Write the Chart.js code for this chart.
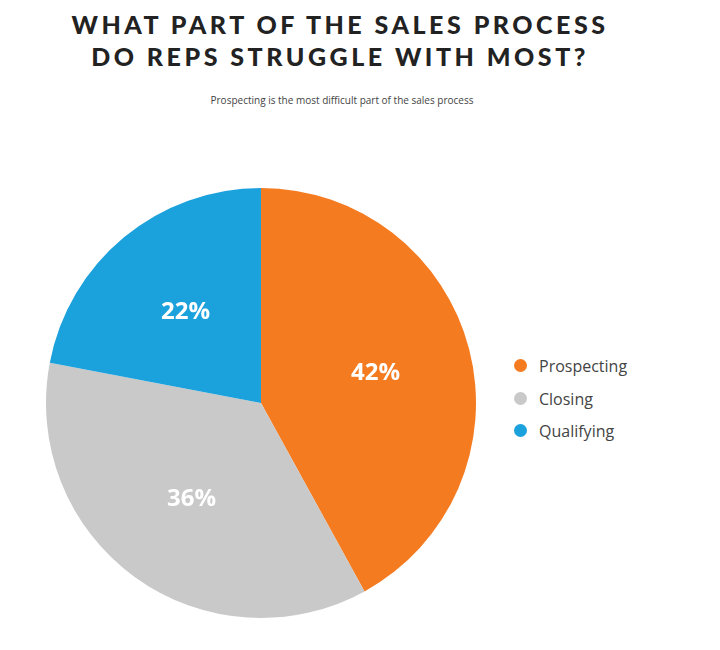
<!DOCTYPE html>
<html><head><meta charset="utf-8">
<script src="https://cdn.jsdelivr.net/npm/chart.js@4"></script>
<style>
body{margin:0;width:720px;height:650px;background:#fff;position:relative;font-family:"Open Sans",Lato,sans-serif;overflow:hidden}
#t{position:absolute;left:0;width:680px;top:8px;text-align:center;font-family:Lato,"Open Sans",sans-serif;font-weight:900;font-size:25px;letter-spacing:3.5px;line-height:32px;color:#222}
#s{position:absolute;left:0;width:684px;top:93px;text-align:center;font-size:10px;color:#444}
#c{position:absolute;left:36px;top:178px;width:450px;height:450px}
#lg{position:absolute;left:514px;top:355px;font-size:16px;color:#444}
#lg div{height:32.5px;display:flex;align-items:flex-start}
#lg span{display:inline-block;width:13px;height:13px;border-radius:50%;margin:4px 12px 0 0}
</style></head><body>
<div id="t">WHAT PART OF THE SALES PROCESS<br>DO REPS STRUGGLE WITH MOST?</div>
<div id="s">Prospecting is the most difficult part of the sales process</div>
<div id="c"><canvas id="cv"></canvas></div>
<div id="lg"></div>
<script>
const categories=["Prospecting","Closing","Qualifying"];
const values=[42,36,22];
const colors=["#F47B20","#C9C9C9","#1BA1DC"];
const lg=document.getElementById('lg');
categories.forEach((c,i)=>{lg.innerHTML+=`<div><span style="background:${colors[i]}"></span>${c}</div>`});
const lbl={id:'lbl',afterDatasetsDraw(ch){const ctx=ch.ctx;ch.getDatasetMeta(0).data.forEach((a,i)=>{const m=(a.startAngle+a.endAngle)/2,r=a.outerRadius*0.55;ctx.save();ctx.fillStyle='#fff';ctx.font='bold 24px "Open Sans",sans-serif';ctx.textAlign='center';ctx.textBaseline='middle';ctx.fillText(values[i]+'%',a.x+Math.cos(m)*r,a.y+Math.sin(m)*r);ctx.restore();});}};
new Chart(document.getElementById('cv'),{type:'pie',data:{labels:categories,datasets:[{data:values,backgroundColor:colors,borderWidth:0}]},
options:{responsive:true,maintainAspectRatio:false,animation:false,layout:{padding:10},plugins:{legend:{display:false},tooltip:{enabled:false}}},plugins:[lbl]});
</script></body></html>
